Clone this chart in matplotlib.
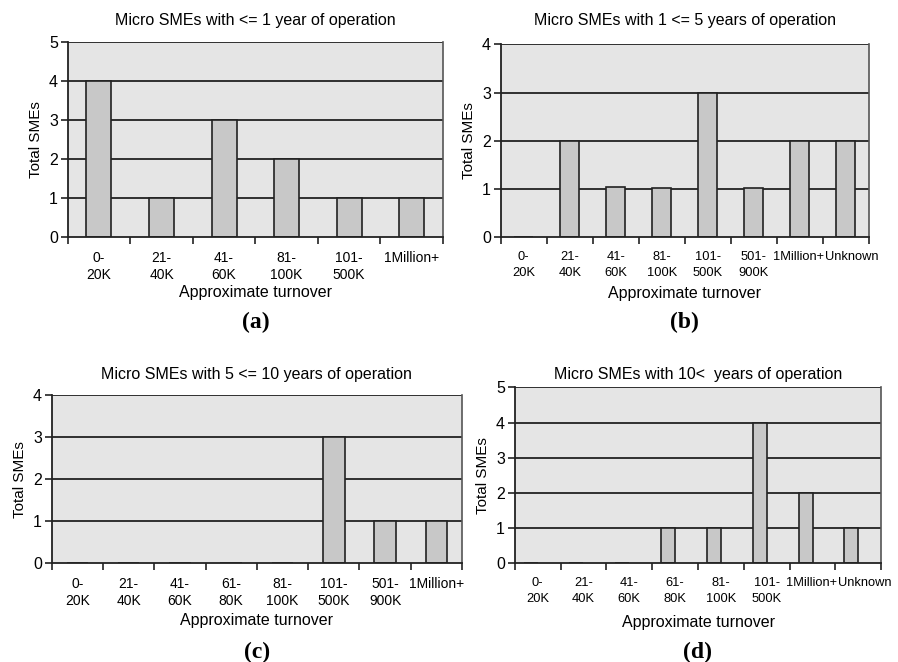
import matplotlib
matplotlib.use("Agg")
import matplotlib.pyplot as plt
import numpy as np

plt.rcParams['font.family'] = ['Liberation Sans', 'DejaVu Sans']

# ---- data ----
titles = [
    "Micro SMEs with <= 1 year of operation",
    "Micro SMEs with 1 <= 5 years of operation",
    "Micro SMEs with 5 <= 10 years of operation",
    "Micro SMEs with 10<  years of operation",
]
panel_labels = ["(a)", "(b)", "(c)", "(d)"]

cats_a = ["0-\n20K", "21-\n40K", "41-\n60K", "81-\n100K", "101-\n500K", "1Million+"]
vals_a = [4, 1, 3, 2, 1, 1]

cats_b = ["0-\n20K", "21-\n40K", "41-\n60K", "81-\n100K", "101-\n500K", "501-\n900K",
          "1Million+", "Unknown"]
vals_b = [0, 2, 1.04, 1.03, 3, 1.03, 2, 2]

cats_c = ["0-\n20K", "21-\n40K", "41-\n60K", "61-\n80K", "81-\n100K", "101-\n500K",
          "501-\n900K", "1Million+"]
vals_c = [0, 0, 0, 0, 0, 3, 1, 1]

cats_d = ["0-\n20K", "21-\n40K", "41-\n60K", "61-\n80K", "81-\n100K", "101-\n500K",
          "1Million+", "Unknown"]
vals_d = [0, 0, 0, 1, 1, 4, 2, 1]

ymax = [5, 4, 4, 5]

tick_sizes = [10, 9.3, 10, 9.3]
line_sp = [1.3, 1.4, 1.3, 1.4]
title_pads = [12, 14, 12, 6.3]
xlabel_pads = [2, 5, 3, 7]

W, H = 898, 662
fig = plt.figure(figsize=(W / 100, H / 100), dpi=100)
fig.patch.set_facecolor('white')

# axes boxes in pixels: left, right, top, bottom
boxes = [
    (67.7, 443.0, 41.7, 237.3),
    (500.7, 868.7, 44.3, 237.3),
    (51.7, 462.0, 395.3, 563.3),
    (514.7, 881.3, 387.3, 563.3),
]
bar_w = [0.40, 0.41, 0.42, 0.305]
bar_align = ['center', 'center', 'center', 'left']

data = [(cats_a, vals_a), (cats_b, vals_b), (cats_c, vals_c), (cats_d, vals_d)]

for i, ((cats, vals), (l, r, t, b)) in enumerate(zip(data, boxes)):
    ax = fig.add_axes([l / W, 1 - b / H, (r - l) / W, (b - t) / H])
    ax.set_facecolor('#e5e5e5')
    n = len(cats)
    x = np.arange(n)
    ax.set_xlim(-0.5, n - 0.5)
    ax.set_ylim(0, ymax[i])
    ax.set_axisbelow(True)
    for yv in range(1, ymax[i] + 1):
        ax.axhline(yv, color='#222222', lw=1.3, zorder=1)
    if bar_align[i] == 'center':
        ax.bar(x, vals, width=bar_w[i], color='#c8c8c8', edgecolor='#222222',
               linewidth=1.2, zorder=2)
    else:
        ax.bar(x - bar_w[i], vals, width=bar_w[i], align='edge', color='#c8c8c8',
               edgecolor='#222222', linewidth=1.2, zorder=2)
    # ticks at boundaries, labels at centers (crowded labels nudged apart)
    ax.set_xticks(np.arange(n + 1) - 0.5)
    ax.set_xticklabels([])
    px_per_cat = (r - l) / n
    nudge = np.zeros(n)
    if "Unknown" in cats:
        nudge[cats.index("Unknown")] = 6.5 / px_per_cat
        nudge[cats.index("1Million+")] = -1.5 / px_per_cat
    ax.set_xticks(x + nudge, minor=True)
    ax.set_xticklabels(cats, minor=True, fontsize=tick_sizes[i],
                       linespacing=line_sp[i])
    ax.tick_params(axis='x', which='minor', length=0, pad=10)
    ax.tick_params(axis='x', which='major', length=5, width=1.2, color='#222222',
                   direction='out')
    ax.set_yticks(range(0, ymax[i] + 1))
    ax.tick_params(axis='y', length=5, width=1.2, color='#222222', labelsize=11.5,
                   pad=2)
    for s in ['left', 'bottom']:
        ax.spines[s].set_color('#222222')
        ax.spines[s].set_linewidth(1.3)
    ax.spines['right'].set_color('#555555')
    ax.spines['right'].set_linewidth(1.2)
    ax.spines['top'].set_visible(False)
    ax.set_title(titles[i], fontsize=11.5, pad=title_pads[i])
    ax.set_ylabel("Total SMEs", fontsize=11, labelpad=4)
    ax.set_xlabel("Approximate turnover", fontsize=11.5, labelpad=xlabel_pads[i])
    cx = (l + r) / 2
    cy = 322 if i < 2 else 652
    fig.text(cx / W, 1 - cy / H, panel_labels[i], ha='center', va='center',
             fontsize=17, fontweight='bold', family='Liberation Serif')

fig.savefig("out.png", dpi=100)
